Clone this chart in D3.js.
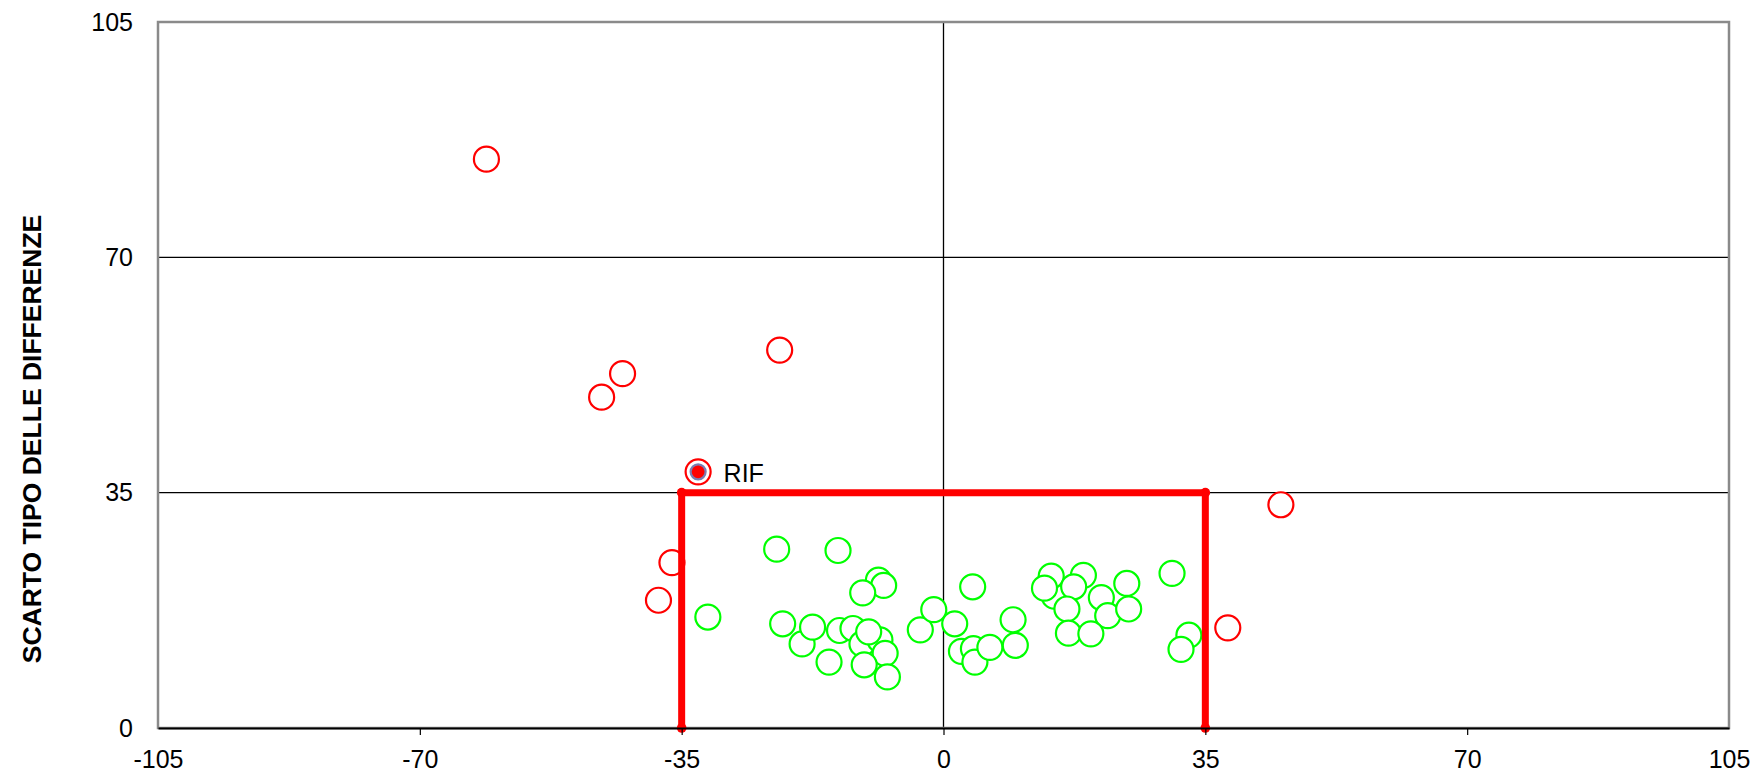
<!DOCTYPE html>
<html>
<head>
<meta charset="utf-8">
<script src="https://cdn.jsdelivr.net/npm/d3@7"></script>
<style>
  html, body { margin: 0; padding: 0; background: #ffffff; }
  svg { display: block; }
  text { font-family: "Liberation Sans", Arial, sans-serif; fill: #000; }
</style>
</head>
<body>
<svg id="chart" width="1756" height="773"></svg>
<script>
// ---- data ----
const xTicks = [-105, -70, -35, 0, 35, 70, 105];
const yTicks = [0, 35, 70, 105];
const yTitle = "SCARTO TIPO DELLE DIFFERENZE";

// points within the limits (green)
const greenX = [-31.5, -22.3, -14.1, -8.7, -8.0, -10.8, -21.5, -18.9, -17.5, -13.9,
                -12.1, -10.9, -8.5, -10.0, -7.8, -15.3, -10.6, -7.5, -3.1, -1.3,
                1.5, 2.4, 4.0, 4.2, 6.2, 3.9, 9.3, 9.6, 14.8, 14.4,
                13.5, 18.7, 17.4, 16.5, 21.1, 21.95, 24.5, 24.75, 16.7, 19.7,
                30.55, 32.8, 31.75];
const greenY = [16.5, 26.6, 26.4, 22.0, 21.2, 20.1, 15.5, 12.5, 15.0, 14.5,
                14.8, 12.5, 13.1, 14.3, 11.1, 9.8, 9.4, 7.6, 14.6, 17.6,
                15.5, 11.4, 11.8, 9.8, 12.0, 21.0, 16.1, 12.3, 19.6, 22.6,
                20.8, 22.7, 21.0, 17.7, 19.4, 16.7, 21.5, 17.7, 14.1, 14.0,
                23.0, 13.8, 11.7];

// points outside the limits (red)
const redX = [-61.1, -42.9, -45.7, -21.9, -36.3, -38.1, 38.0, 45.1];
const redY = [84.6, 52.7, 49.2, 56.2, 24.6, 19.0, 14.9, 33.2];

// reference point
const refX = [-32.8];
const refY = [38.1];
const refLabel = ["RIF"];

// limit box
const limitX = [-35, -35, 35, 35];
const limitY = [0, 35, 35, 0];

// ---- layout ----
const svg = d3.select("#chart");
const pLeft = 158, pRight = 1729, pTop = 22, pBottom = 728;
const x = d3.scaleLinear().domain([-105, 105]).range([pLeft, pRight]);
const y = d3.scaleLinear().domain([0, 105]).range([pBottom, pTop]);

// horizontal gridlines
svg.append("g").selectAll("line")
  .data(yTicks.filter(d => d > 0 && d < 105))
  .join("line")
  .attr("x1", pLeft).attr("x2", pRight)
  .attr("y1", d => y(d)).attr("y2", d => y(d))
  .attr("stroke", "#000").attr("stroke-width", 1.1);

// vertical line at x = 0
svg.append("line")
  .attr("x1", x(0)).attr("x2", x(0))
  .attr("y1", pTop).attr("y2", pBottom)
  .attr("stroke", "#000").attr("stroke-width", 1.3);

// frame
svg.append("rect")
  .attr("x", pLeft).attr("y", pTop)
  .attr("width", pRight - pLeft).attr("height", pBottom - pTop)
  .attr("fill", "none").attr("stroke", "#8a8a8a").attr("stroke-width", 2.5);

// green points
const r = 12.5;
const gData = greenX.map((v, i) => ({x: v, y: greenY[i]}));
svg.append("g").selectAll("circle")
  .data(gData).join("circle")
  .attr("cx", d => x(d.x)).attr("cy", d => y(d.y)).attr("r", r)
  .attr("fill", "#fff").attr("stroke", "#00ff00").attr("stroke-width", 2.2);

// red points
const rData = redX.map((v, i) => ({x: v, y: redY[i]}));
svg.append("g").selectAll("circle")
  .data(rData).join("circle")
  .attr("cx", d => x(d.x)).attr("cy", d => y(d.y)).attr("r", r)
  .attr("fill", "#fff").attr("stroke", "#ff0000").attr("stroke-width", 2.2);

// reference point
const refData = refX.map((v, i) => ({x: v, y: refY[i], label: refLabel[i]}));
const refG = svg.append("g");
refG.selectAll("circle.outer").data(refData).join("circle")
  .attr("class", "outer")
  .attr("cx", d => x(d.x)).attr("cy", d => y(d.y)).attr("r", 12.5)
  .attr("fill", "#fff").attr("stroke", "#ff0000").attr("stroke-width", 2.2);
refG.selectAll("circle.inner").data(refData).join("circle")
  .attr("class", "inner")
  .attr("cx", d => x(d.x)).attr("cy", d => y(d.y)).attr("r", 7.5)
  .attr("fill", "#ff0000").attr("stroke", "#7b7bb0").attr("stroke-width", 2.2);
refG.selectAll("text").data(refData).join("text")
  .attr("x", d => x(d.x) + 25.5).attr("y", d => y(d.y) + 10)
  .attr("font-size", 25).text(d => d.label);

// limit box
const lData = limitX.map((v, i) => ({x: v, y: limitY[i]}));
svg.append("path")
  .datum(lData)
  .attr("d", d3.line().x(d => x(d.x)).y(d => y(d.y)))
  .attr("fill", "none").attr("stroke", "#ff0000").attr("stroke-width", 7);
svg.append("g").selectAll("circle")
  .data(lData).join("circle")
  .attr("cx", d => x(d.x)).attr("cy", d => y(d.y)).attr("r", 4.8)
  .attr("fill", "#ff0000");

// x axis
const xAxis = d3.axisBottom(x).tickValues(xTicks).tickSizeInner(7).tickSizeOuter(0).tickPadding(15)
  .tickFormat(d3.format("d"));
const gx = svg.append("g").attr("transform", `translate(0,${pBottom})`).call(xAxis);
gx.select(".domain").attr("stroke", "#000").attr("stroke-width", 1.8);
gx.selectAll(".tick line").attr("stroke", "#000").attr("stroke-width", 1.2)
  .attr("opacity", d => (d === -105 || d === 105) ? 0 : 1);
gx.selectAll(".tick text")
  .attr("font-size", 25).attr("font-family", "Liberation Sans, Arial, sans-serif")
  .attr("fill", "#000").text(d => d < 0 ? "-" + Math.abs(d) : d);

// y axis labels
const yAxis = d3.axisLeft(y).tickValues(yTicks).tickSize(0).tickPadding(25)
  .tickFormat(d3.format("d"));
const gy = svg.append("g").attr("transform", `translate(${pLeft},0)`).call(yAxis);
gy.select(".domain").remove();
gy.selectAll(".tick text")
  .attr("font-size", 25).attr("font-family", "Liberation Sans, Arial, sans-serif")
  .attr("fill", "#000");

// y title
svg.append("text")
  .attr("transform", "translate(41,439) rotate(-90)")
  .attr("text-anchor", "middle")
  .attr("font-size", 26.5).attr("font-weight", "bold")
  .text(yTitle);
</script>
</body>
</html>
